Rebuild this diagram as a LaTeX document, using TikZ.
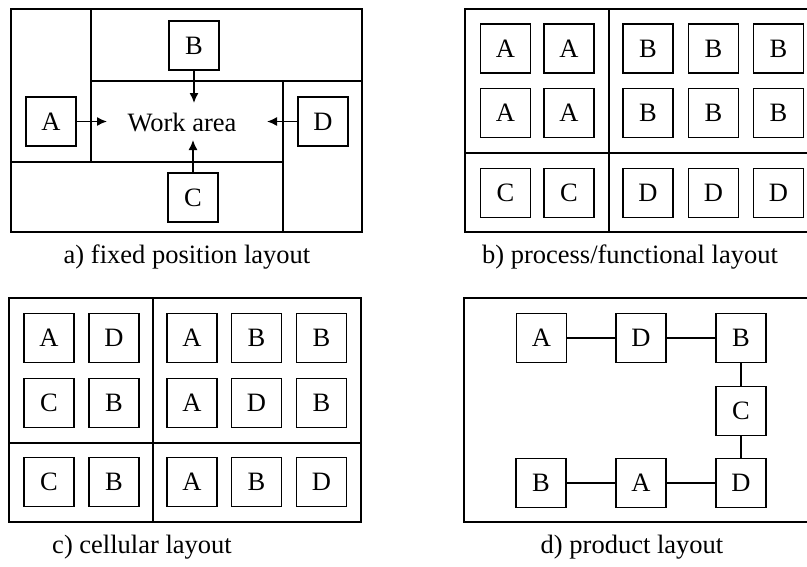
\documentclass[tikz,border=0pt]{standalone}
\usepackage{fontspec}
\setmainfont{Liberation Serif}
\usetikzlibrary{arrows.meta}

\tikzset{
  machine/.style={draw, line width=1.8pt, minimum width=50pt, minimum height=49pt, inner sep=0pt},
  frame/.style={line width=1.8pt},
  flow/.style={line width=1.5pt, -{Latex[length=10pt,width=9pt]}},
  link/.style={line width=1.5pt},
  caption/.style={inner sep=0pt}
}

\begin{document}
\begin{tikzpicture}[x=1pt, y=-1pt, font=\fontsize{26.5}{30}\selectfont]
\useasboundingbox (0,0) rectangle (807,566);

% a) fixed position layout
\draw [frame] (11,9) rectangle (362,232);
\draw [frame] (91,9) -- (91,162);
\draw [frame] (91,81) -- (362,81);
\draw [frame] (11,162) -- (283,162);
\draw [frame] (283,81) -- (283,232);

\node [machine] (aB) at (194,45.5) {B};
\node [machine] (aA) at (51,121.5) {A};
\node [machine] (aD) at (323,121.5) {D};
\node [machine] (aC) at (193,197.5) {C};
\node (work) at (182,123) {Work area};

\coordinate (wA) at (107,121.5);
\coordinate (wD) at (267,121.5);
\coordinate (wB) at (194,103);
\coordinate (wC) at (193,140);
\draw [flow] (aA) -- (wA);
\draw [flow] (aD) -- (wD);
\draw [flow] (aB) -- (wB);
\draw [flow] (aC) -- (wC);

\node [caption] (capa) at (187,257) {a) fixed position layout};

% b) process/functional layout
\draw [frame] (465,9) rectangle (812,232);
\draw [frame] (609,9) -- (609,232);
\draw [frame] (465,153) -- (812,153);

\node [machine] (b1) at (505.5,48.5) {A};
\node [machine] (b2) at (569,48.5) {A};
\node [machine] (b3) at (648,48.5) {B};
\node [machine] (b4) at (713.5,48.5) {B};
\node [machine] (b5) at (778.5,48.5) {B};
\node [machine] (b6) at (505.5,113) {A};
\node [machine] (b7) at (569,113) {A};
\node [machine] (b8) at (648,113) {B};
\node [machine] (b9) at (713.5,113) {B};
\node [machine] (b10) at (778.5,113) {B};
\node [machine] (b11) at (505.5,193) {C};
\node [machine] (b12) at (569,193) {C};
\node [machine] (b13) at (648,193) {D};
\node [machine] (b14) at (713.5,193) {D};
\node [machine] (b15) at (778.5,193) {D};

\node [caption] (capb) at (630,257) {b) process/functional layout};

% c) cellular layout
\draw [frame] (9,298) rectangle (361,522);
\draw [frame] (153,298) -- (153,522);
\draw [frame] (9,443) -- (361,443);

\node [machine] (c1) at (49,338) {A};
\node [machine] (c2) at (114,338) {D};
\node [machine] (c3) at (192,338) {A};
\node [machine] (c4) at (256.5,338) {B};
\node [machine] (c5) at (321.5,338) {B};
\node [machine] (c6) at (49,403) {C};
\node [machine] (c7) at (114,403) {B};
\node [machine] (c8) at (192,403) {A};
\node [machine] (c9) at (256.5,403) {D};
\node [machine] (c10) at (321.5,403) {B};
\node [machine] (c11) at (49,482) {C};
\node [machine] (c12) at (114,482) {B};
\node [machine] (c13) at (192,482) {A};
\node [machine] (c14) at (256.5,482) {B};
\node [machine] (c15) at (321.5,482) {D};

\node [caption] (capc) at (142,547) {c) cellular layout};

% d) product layout
\draw [frame] (464,298) rectangle (812,522);

\node [machine] (d1) at (541.5,338) {A};
\node [machine] (d2) at (641,338) {D};
\node [machine] (d3) at (741,338) {B};
\node [machine] (d4) at (741,411) {C};
\node [machine] (d5) at (741,483) {D};
\node [machine] (d6) at (641,483) {A};
\node [machine] (d7) at (541,483) {B};

\draw [link] (d1) -- (d2);
\draw [link] (d2) -- (d3);
\draw [link] (d3) -- (d4);
\draw [link] (d4) -- (d5);
\draw [link] (d5) -- (d6);
\draw [link] (d6) -- (d7);

\node [caption] (capd) at (632,547) {d) product layout};
\end{tikzpicture}
\end{document}
